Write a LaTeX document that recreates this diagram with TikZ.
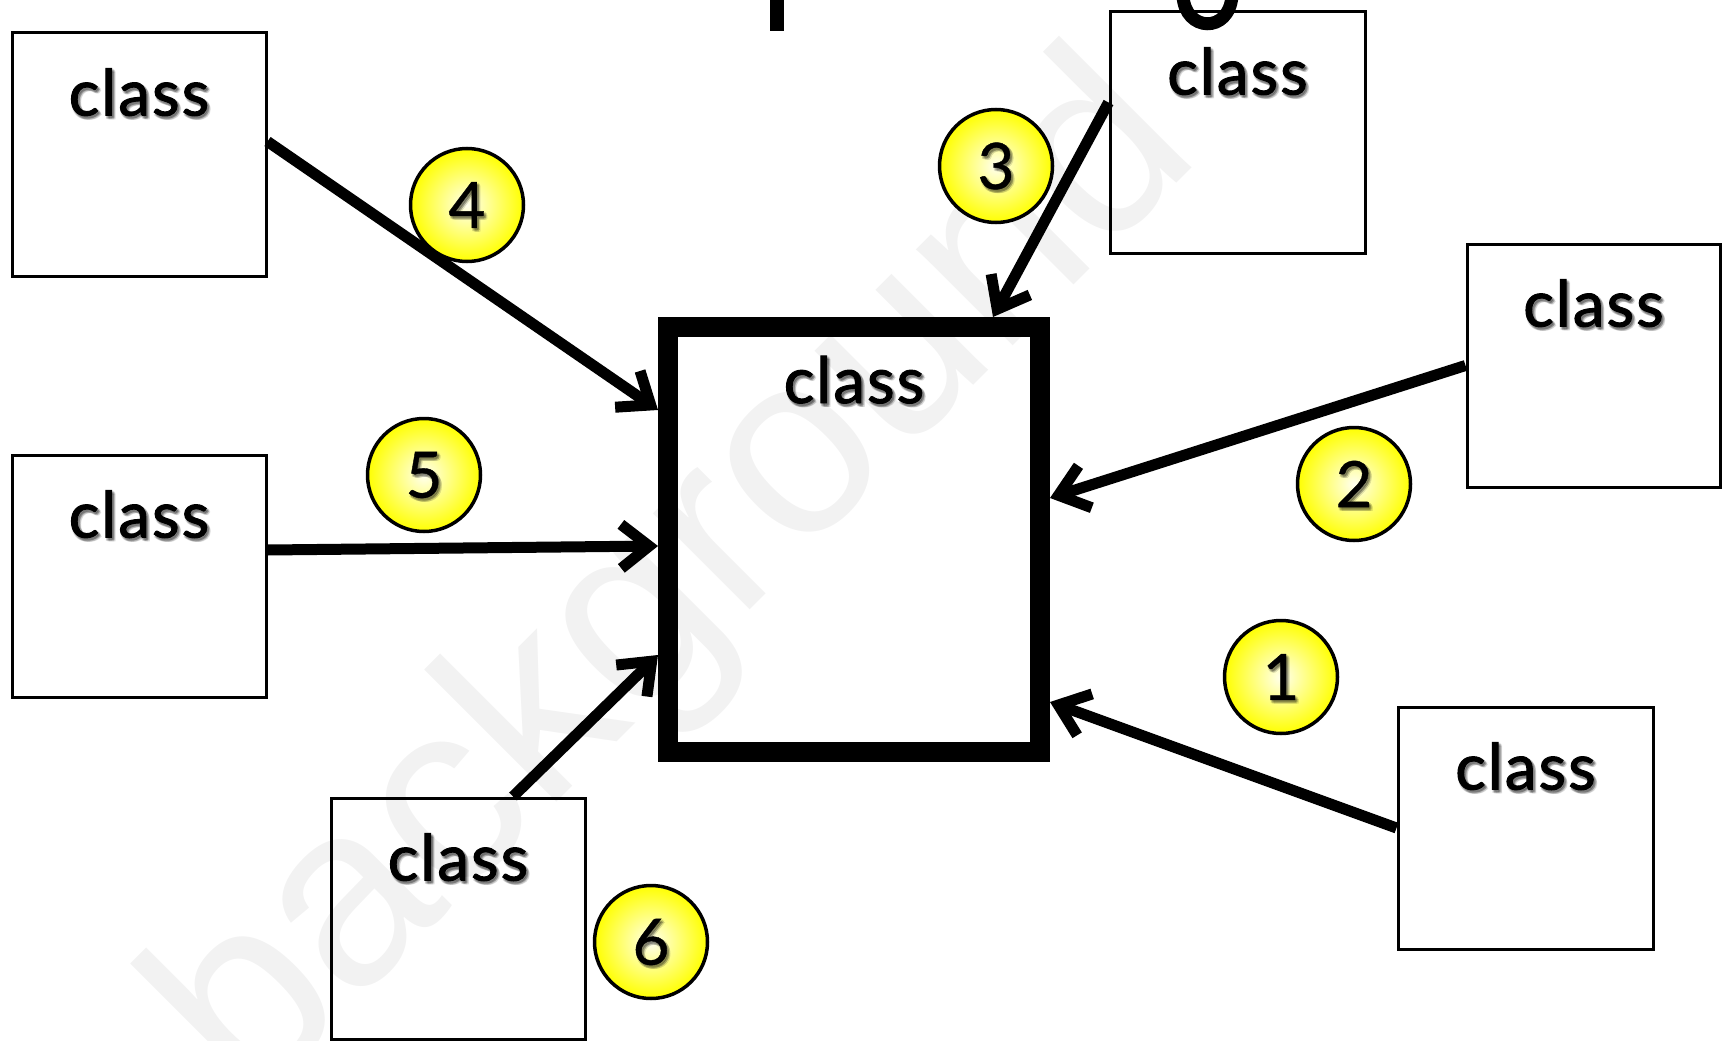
\documentclass[tikz,border=0pt]{standalone}
\usepackage{fontspec}
\setmainfont{Lato}
\newfontfamily\clsfont{Lato}[FakeBold=1.5,LetterSpace=3]
\newfontfamily\digfont{Lato}[FakeBold=0.6]
\newfontfamily\wmfont{Liberation Sans}
\usetikzlibrary{arrows.meta,shadings}
\tikzset{
  clsbox/.style={draw, line width=3pt, inner sep=0pt, minimum width=254pt, minimum height=242pt},
  mainbox/.style={draw, line width=20pt, inner sep=0pt, minimum width=372pt, minimum height=425pt},
  txt/.style={font=\clsfont\fontsize{64}{70}\selectfont, inner sep=0pt, text=black},
  dig/.style={font=\digfont\fontsize{64}{70}\selectfont, inner sep=0pt, text=black},
  badge/.style={circle, draw, line width=3.5pt, minimum size=113pt, inner sep=0pt,
    inner color=yellow!6!white, outer color=yellow},
  dep/.style={line width=11pt, -{Straight Barb[length=28pt,width=44pt]}},
}
\newcommand\stxt[5][txt]{%
  \foreach \dx/\dy in {1/-2,3/-2,2/-1,2/-3.5,0.5/-3,3.5/-3.5,2/-2.5}{%
    \node[#1,anchor=#4,text opacity=.09] at ([xshift=\dx pt,yshift=\dy pt]#3) {#5};}
  \node[#1,anchor=#4] (#2) at (#3) {#5};}
\begin{document}
\begin{tikzpicture}[x=1pt,y=-1pt]
\useasboundingbox (0,0) rectangle (1722,1041);
% watermark (behind everything)
\node[rotate=45, text=black!5, inner sep=0pt,
  font=\wmfont\fontsize{258}{280}\selectfont] (wm) at (680,585) {background};
% partial title glyphs at the top edge
\fill (770,-2) rectangle (784,31);
\draw[line width=13pt] (1183,-4) .. controls (1185,32) and (1229,34) .. (1232,-4);
% boxes
\node[clsbox, minimum height=243pt] (A) at (139,154.5) {};
\node[clsbox] (B) at (139,576) {};
\node[clsbox, minimum height=241pt] (C) at (458,918.5) {};
\node[clsbox, minimum width=255pt, minimum height=241pt] (D) at (1237.5,132.5) {};
\node[clsbox, minimum width=253pt, minimum height=243pt] (E) at (1593.5,365.5) {};
\node[clsbox, minimum width=255pt] (F) at (1525.5,828) {};
\node[mainbox] (G) at (854,539.5) {};
% labels
\coordinate (tA) at ([yshift=-84pt]A.north);
\coordinate (tB) at ([yshift=-84pt]B.north);
\coordinate (tC) at ([yshift=-84pt]C.north);
\coordinate (tD) at ([yshift=-84pt]D.north);
\coordinate (tE) at ([yshift=-84pt]E.north);
\coordinate (tF) at ([yshift=-84pt]F.north);
\coordinate (tG) at ([yshift=-86pt]G.north);
\stxt{lA}{tA}{base}{class}
\stxt{lB}{tB}{base}{class}
\stxt{lC}{tC}{base}{class}
\stxt{lD}{tD}{base}{class}
\stxt{lE}{tE}{base}{class}
\stxt{lF}{tF}{base}{class}
\stxt{lG}{tG}{base}{class}
% connectors
\draw[dep] ([yshift=13pt]A.east) -- ([yshift=129.5pt]G.west);
\draw[dep] ([yshift=26pt]B.east) -- ([yshift=-6.5pt]G.west);
\draw[dep] ([xshift=55pt]C.north) -- ([yshift=-115.5pt]G.west);
\draw[dep] ([yshift=30pt]D.west) -- ([xshift=139pt]G.north);
\draw[dep] (E.west) -- ([yshift=41.5pt]G.east);
\draw[dep] (F.west) -- ([yshift=-162.5pt]G.east);
% numbered badges
\node[badge] (n1) at (1281,677) {};
\node[badge] (n2) at (1354,484) {};
\node[badge] (n3) at (996,166) {};
\node[badge] (n4) at (467,205) {};
\node[badge] (n5) at (424,475) {};
\node[badge] (n6) at (651,942) {};
\stxt[dig]{d1}{n1.center}{center}{1}
\stxt[dig]{d2}{n2.center}{center}{2}
\stxt[dig]{d3}{n3.center}{center}{3}
\stxt[dig]{d4}{n4.center}{center}{4}
\stxt[dig]{d5}{n5.center}{center}{5}
\stxt[dig]{d6}{n6.center}{center}{6}
\end{tikzpicture}
\end{document}
